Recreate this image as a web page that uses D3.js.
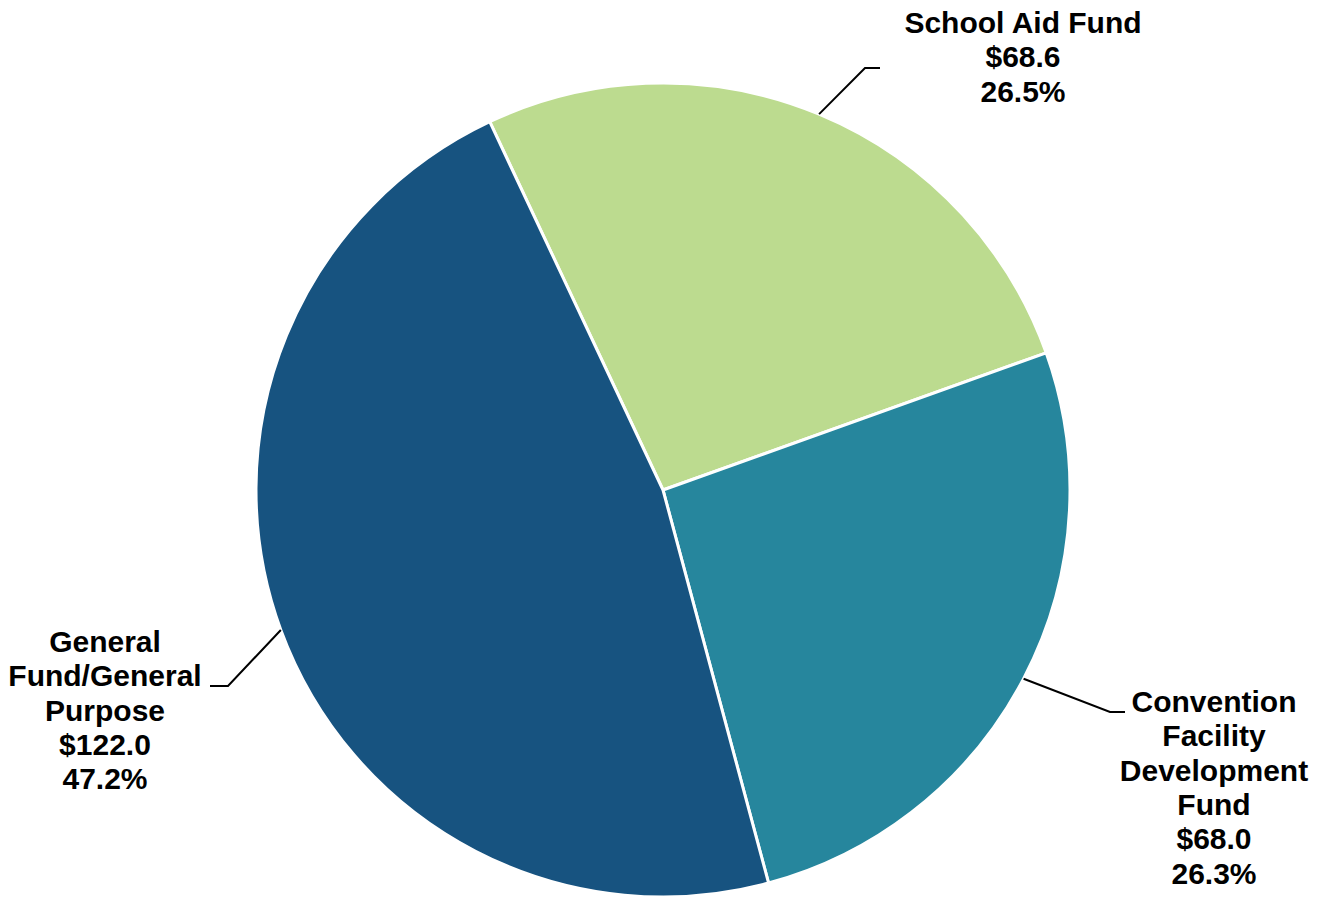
<!doctype html>
<html lang="en">
<head>
<meta charset="utf-8">
<script src="https://d3js.org/d3.v7.min.js"></script>
<style>
  body { margin: 0; background: #fff; }
  text { font-family: "Liberation Sans", Arial, sans-serif; font-weight: bold; fill: #000; }
</style>
</head>
<body>
<svg id="chart" width="1323" height="899"></svg>
<script>
// data ($ millions)
var categories = ["School Aid Fund", "Convention Facility Development Fund", "General Fund/General Purpose"];
var values = [68.6, 68.0, 122.0];
var percents = ["26.5%", "26.3%", "47.2%"];
var labelLines = [
  ["School Aid Fund"],
  ["Convention", "Facility", "Development", "Fund"],
  ["General", "Fund/General", "Purpose"]
];
var colors = ["#bcdb8f", "#26869d", "#175380"];

// layout
var cx = 663, cy = 490, radius = 407;
var startDeg = -25.2;
var lineH = 34.3;
// label block: text centre x, first baseline y, elbow point, end of the short horizontal tick
var labelPos = [
  { x: 1023, y: 33,  elbow: [865, 68],  end: [880, 68] },
  { x: 1214, y: 712, elbow: [1110, 712], end: [1125, 712] },
  { x: 105,  y: 652, elbow: [228, 686], end: [210, 686] }
];

var svg = d3.select("#chart");
var g = svg.append("g").attr("transform", "translate(" + cx + "," + cy + ")");

var pie = d3.pie().sort(null).value(function(d){ return d; })
  .startAngle(startDeg * Math.PI / 180)
  .endAngle((startDeg + 360) * Math.PI / 180);
var arcs = pie(values);
var arc = d3.arc().innerRadius(0).outerRadius(radius);

g.selectAll("path.slice")
  .data(arcs)
  .enter()
  .append("path")
  .attr("class", "slice")
  .attr("d", arc)
  .attr("fill", function(d, i){ return colors[i]; })
  .attr("stroke", "#fff")
  .attr("stroke-width", 3)
  .attr("stroke-linejoin", "round");

// leader lines from the slice's outer edge at its mid angle
arcs.forEach(function(d, i){
  var mid = (d.startAngle + d.endAngle) / 2;
  var sx = cx + radius * Math.sin(mid);
  var sy = cy - radius * Math.cos(mid);
  var p = labelPos[i];
  svg.append("polyline")
    .attr("points", [[sx, sy], p.elbow, p.end].map(function(q){ return q.join(","); }).join(" "))
    .attr("fill", "none")
    .attr("stroke", "#000")
    .attr("stroke-width", 2);

  var lines = labelLines[i].concat(["$" + values[i].toFixed(1), percents[i]]);
  var t = svg.append("text")
    .attr("text-anchor", "middle")
    .attr("font-size", 30);
  lines.forEach(function(s, k){
    t.append("tspan")
      .attr("x", p.x)
      .attr("y", p.y + k * lineH)
      .text(s);
  });
});
</script>
</body>
</html>
